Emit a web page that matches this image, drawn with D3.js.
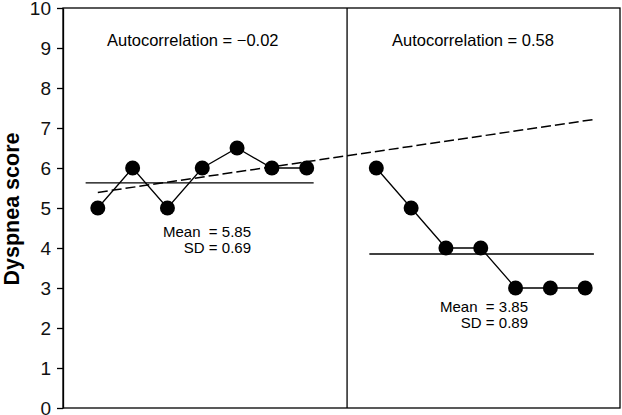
<!DOCTYPE html>
<html>
<head>
<meta charset="utf-8">
<script src="https://cdn.jsdelivr.net/npm/d3@7"></script>
<style>
  body { margin: 0; background: #fff; }
  svg { display: block; font-family: "Liberation Sans", Arial, sans-serif; }
</style>
</head>
<body>
<svg id="chart" width="622" height="415"></svg>
<script>
// ---- data ----
const leftSessions = [1, 2, 3, 4, 5, 6, 7];
const leftScores = [5, 6, 5, 6, 6.5, 6, 6];
const rightSessions = [9, 10, 11, 12, 13, 14, 15];
const rightScores = [6, 5, 4, 4, 3, 3, 3];
const meanLines = [
  { from: 0.65, to: 7.2, value: 5.63 },
  { from: 8.8, to: 15.25, value: 3.85 }
];
const trendStart = { x: 1, y: 5.39 };
const trendEnd = { x: 15.3, y: 7.22 };
const dividerAt = 8.16;
const yTicks = [0, 1, 2, 3, 4, 5, 6, 7, 8, 9, 10];
const autocorrLabels = ["Autocorrelation = \u22120.02", "Autocorrelation = 0.58"];
const meanLabels = ["Mean  = 5.85", "Mean  = 3.85"];
const sdLabels = ["SD = 0.69", "SD = 0.89"];
const yTitle = "Dyspnea score";

// ---- layout ----
const svg = d3.select("#chart");
const x0 = 63, x1 = 620, yTop = 8, yBot = 408;
const x = d3.scaleLinear().domain([0, 16.0]).range([x0, x1]);
const y = d3.scaleLinear().domain([0, 10]).range([yBot, yTop]);

// frame
svg.append("rect").attr("x", x0).attr("y", yTop).attr("width", x1 - x0).attr("height", yBot - yTop)
  .attr("fill", "none").attr("stroke", "#000").attr("stroke-width", 1.3);
svg.append("line").attr("x1", x(dividerAt)).attr("x2", x(dividerAt)).attr("y1", yTop).attr("y2", yBot)
  .attr("stroke", "#000").attr("stroke-width", 1.3);

// y axis
const yAxis = d3.axisLeft(y).tickValues(yTicks).tickSize(6).tickPadding(6).tickSizeOuter(0);
const ga = svg.append("g").attr("transform", `translate(${x0},0)`).call(yAxis);
ga.select(".domain").attr("stroke-width", 1.3);
ga.selectAll(".tick line").attr("stroke-width", 1.3);
ga.selectAll(".tick text").attr("font-size", 19).attr("font-family", "Liberation Sans, Arial, sans-serif").attr("fill", "#111");

svg.append("text").attr("transform", `translate(19,${(yTop + yBot) / 2 + 1}) rotate(-90)`)
  .attr("text-anchor", "middle").attr("font-size", 21.5).attr("font-weight", "bold").text(yTitle);

// mean lines
svg.selectAll(".mean").data(meanLines).enter().append("line")
  .attr("x1", d => x(d.from)).attr("x2", d => x(d.to))
  .attr("y1", d => y(d.value)).attr("y2", d => y(d.value))
  .attr("stroke", "#000").attr("stroke-width", 1.3);

// trend line
svg.append("line").attr("x1", x(trendStart.x)).attr("y1", y(trendStart.y))
  .attr("x2", x(trendEnd.x)).attr("y2", y(trendEnd.y))
  .attr("stroke", "#000").attr("stroke-width", 1.5).attr("stroke-dasharray", "10,4");

// series
const line = d3.line().x(d => x(d[0])).y(d => y(d[1]));
[[leftSessions, leftScores], [rightSessions, rightScores]].forEach(([xs, ys]) => {
  const pts = xs.map((s, i) => [s, ys[i]]);
  svg.append("path").attr("d", line(pts)).attr("fill", "none").attr("stroke", "#000").attr("stroke-width", 1.3);
  svg.selectAll(null).data(pts).enter().append("circle")
    .attr("cx", d => x(d[0])).attr("cy", d => y(d[1])).attr("r", 7.5).attr("fill", "#000");
});

// labels
svg.append("text").attr("x", 107).attr("y", 46).attr("font-size", 16.5).text(autocorrLabels[0]);
svg.append("text").attr("x", 392).attr("y", 46).attr("font-size", 16.5).text(autocorrLabels[1]);
svg.append("text").attr("x", 251).attr("y", 237).attr("font-size", 15).attr("text-anchor", "end").style("white-space", "pre").text(meanLabels[0]);
svg.append("text").attr("x", 251).attr("y", 253).attr("font-size", 15).attr("text-anchor", "end").text(sdLabels[0]);
svg.append("text").attr("x", 528).attr("y", 312).attr("font-size", 15).attr("text-anchor", "end").style("white-space", "pre").text(meanLabels[1]);
svg.append("text").attr("x", 528).attr("y", 328).attr("font-size", 15).attr("text-anchor", "end").text(sdLabels[1]);
</script>
</body>
</html>
